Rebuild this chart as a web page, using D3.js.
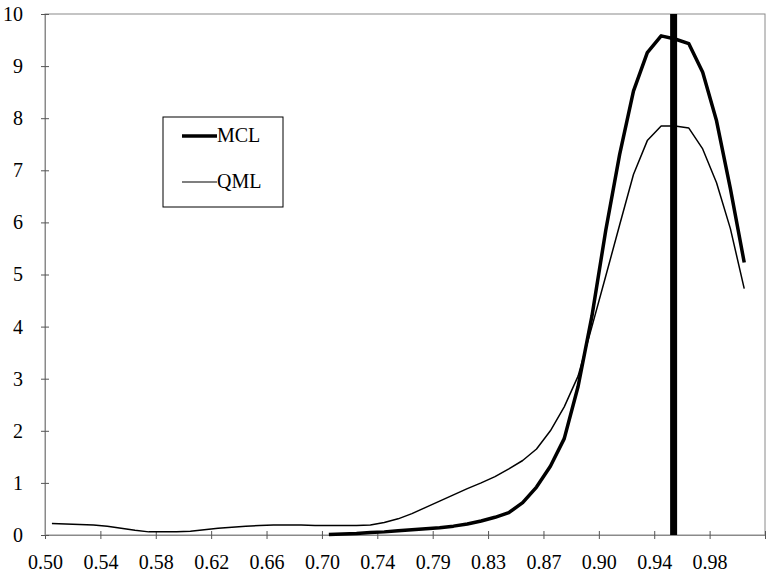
<!DOCTYPE html>
<html>
<head>
  <meta charset="UTF-8">
  <style>
  body { margin:0; background:#fff; }
  svg text { font-family:"Liberation Serif","Times New Roman",serif; fill:#000; }
  </style>
</head>
<body>
  <div id="chart"></div>
  <script src="https://d3js.org/d3.v7.min.js"></script>
  <script>
    // 52 categories, labelled every 4th one
    var nCats = 52;
    var tickLabels = ["0.50","0.54","0.58","0.62","0.66","0.70","0.74","0.79","0.83","0.87","0.90","0.94","0.98"];
    var yTicks = [0,1,2,3,4,5,6,7,8,9,10];

    // QML starts at category 0, MCL at category 20
    var qml = [0.22,0.21,0.20,0.19,0.17,0.13,0.09,0.06,0.06,0.06,0.07,0.10,0.13,0.15,0.17,0.18,0.19,0.19,0.19,0.18,
               0.18,0.18,0.18,0.19,0.24,0.31,0.41,0.53,0.65,0.77,0.89,1.00,1.12,1.27,1.43,1.65,2.00,2.46,3.05,4.00,
               4.97,5.95,6.92,7.57,7.85,7.85,7.81,7.41,6.76,5.88,4.73];
    var mclStart = 20;
    var mcl = [0.01,0.02,0.03,0.05,0.06,0.08,0.10,0.12,0.14,0.17,0.21,0.27,0.34,0.43,0.62,0.92,1.32,1.85,2.85,4.20,
               5.85,7.30,8.52,9.26,9.58,9.52,9.43,8.88,7.95,6.65,5.23];
    var trueCat = 45;

    var svg = d3.select("#chart").append("svg")
        .attr("width", 779)
        .attr("height", 578);

    var margin = {left: 45, right: 765, top: 14, bottom: 535};

    var x = d3.scaleLinear().domain([0, nCats]).range([margin.left, margin.right]);
    var y = d3.scaleLinear().domain([0, 10]).range([margin.bottom, margin.top]);

    // plot frame
    svg.append("rect")
        .attr("x", margin.left).attr("y", margin.top)
        .attr("width", margin.right - margin.left).attr("height", margin.bottom - margin.top)
        .attr("fill", "none")
        .attr("stroke", "#8a8a8a")
        .attr("stroke-width", 1);

    var xAxis = svg.append("g")
        .attr("transform", "translate(0," + margin.bottom + ")")
        .call(d3.axisBottom(x)
          .tickValues(d3.range(0, nCats + 1, 4))
          .tickFormat(function(d) { return tickLabels[d / 4] || ""; })
          .tickSize(4)
          .tickPadding(16));
    xAxis.select(".domain").attr("stroke", "#8a8a8a");
    xAxis.selectAll(".tick line").attr("y1", -4).attr("stroke", "#555");
    xAxis.selectAll("text").attr("font-size", 20).attr("font-family", "Liberation Serif");

    var yAxis = svg.append("g")
        .attr("transform", "translate(" + margin.left + ",0)")
        .call(d3.axisLeft(y)
          .tickValues(yTicks)
          .tickFormat(d3.format("d"))
          .tickSize(4)
          .tickPadding(18));
    yAxis.select(".domain").attr("stroke", "#8a8a8a");
    yAxis.selectAll(".tick line").attr("x1", 4).attr("stroke", "#555");
    yAxis.selectAll("text").attr("font-size", 20).attr("font-family", "Liberation Serif");

    var line = d3.line()
        .x(function(d) { return x(d[0] + 0.5); })
        .y(function(d) { return y(d[1]); });

    svg.append("path")
        .datum(qml.map(function(v, i) { return [i, v]; }))
        .attr("fill", "none")
        .attr("stroke", "#000")
        .attr("stroke-width", 1.5)
        .attr("stroke-linejoin", "round")
        .attr("d", line);

    svg.append("path")
        .datum(mcl.map(function(v, i) { return [i + mclStart, v]; }))
        .attr("fill", "none")
        .attr("stroke", "#000")
        .attr("stroke-width", 3.5)
        .attr("stroke-linejoin", "round")
        .attr("d", line);

    // true value
    svg.append("line")
        .attr("x1", x(trueCat + 0.4)).attr("x2", x(trueCat + 0.4))
        .attr("y1", y(10)).attr("y2", y(0))
        .attr("stroke", "#000")
        .attr("stroke-width", 7);

    // legend
    var lg = svg.append("g").attr("transform", "translate(163,117)");
    lg.append("rect")
        .attr("width", 120).attr("height", 90)
        .attr("fill", "#fff")
        .attr("stroke", "#000")
        .attr("stroke-width", 1);
    var items = [{name: "MCL", w: 3.5, y: 19}, {name: "QML", w: 1.2, y: 65}];
    items.forEach(function(it) {
      lg.append("line")
          .attr("x1", 19).attr("x2", 54)
          .attr("y1", it.y).attr("y2", it.y)
          .attr("stroke", "#000")
          .attr("stroke-width", it.w);
      lg.append("text")
          .attr("x", 54).attr("y", it.y + 6)
          .attr("font-size", 20)
          .text(it.name);
    });
  </script>
</body>
</html>
